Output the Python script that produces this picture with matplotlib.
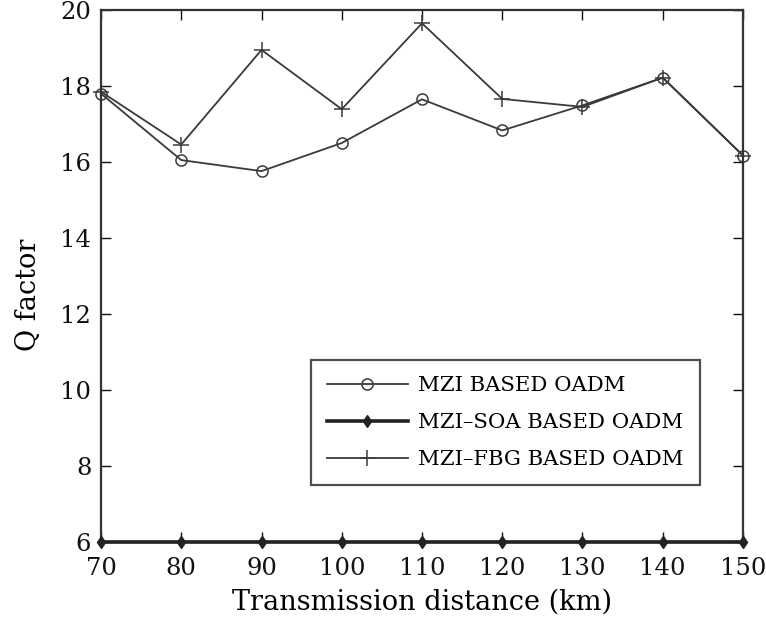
import matplotlib
matplotlib.use("Agg")
from matplotlib import pyplot as plt

distance = [70, 80, 90, 100, 110, 120, 130, 140, 150]
q_mzi = [17.8, 16.05, 15.76, 16.5, 17.65, 16.83, 17.49, 18.22, 16.17]
q_mzi_soa = [6, 6, 6, 6, 6, 6, 6, 6, 6]
q_mzi_fbg = [17.85, 16.46, 18.95, 17.39, 19.65, 17.66, 17.45, 18.22, 16.17]

labels = ["MZI BASED OADM", "MZI\u2013SOA BASED OADM", "MZI\u2013FBG BASED OADM"]

plt.rcParams['font.family'] = ['DejaVu Serif']

W, H = 766, 634
fig = plt.figure(figsize=(W / 100, H / 100), dpi=100)
# axes box in pixels: left 101, right 743, top 10, bottom 542
ax = fig.add_axes([101 / W, 1 - 542 / H, 642 / W, 532 / H])

line_color = '#3a3a3a'
ax.plot(distance, q_mzi, color=line_color, lw=1.3, marker='o', ms=8,
        mfc='none', mec=line_color, mew=1.1, label=labels[0], clip_on=False)
ax.plot(distance, q_mzi_soa, color='#222222', lw=2.6, marker='d', ms=6,
        mfc='#222222', mec='#222222', label=labels[1], clip_on=False, zorder=5)
ax.plot(distance, q_mzi_fbg, color=line_color, lw=1.3, marker='+', ms=12,
        mew=1.1, label=labels[2], clip_on=False)

ax.set_xlim(70, 150)
ax.set_ylim(6, 20)
ax.set_xticks(range(70, 151, 10))
ax.set_yticks(range(6, 21, 2))
ax.tick_params(direction='in', length=7, width=1, top=True, right=True,
               labelsize=17.5, colors='#111111')
ax.tick_params(axis='x', pad=11)
ax.tick_params(axis='y', pad=7)
for s in ax.spines.values():
    s.set_linewidth(1.6)
    s.set_color('#333333')

ax.set_xlabel('Transmission distance (km)', fontsize=19.5, labelpad=6)
ax.set_ylabel('Q factor', fontsize=19.5)
ax.yaxis.set_label_coords(-0.092, 0.464)

leg = ax.legend(loc='lower left', bbox_to_anchor=(0.327, 0.107), fontsize=15.3,
                frameon=True, fancybox=False, edgecolor='#222222',
                handlelength=3.8, handletextpad=0.5, borderpad=0.75,
                labelspacing=0.85, borderaxespad=0)
leg.get_frame().set_linewidth(1.6)

fig.savefig('out.png', dpi=100)
